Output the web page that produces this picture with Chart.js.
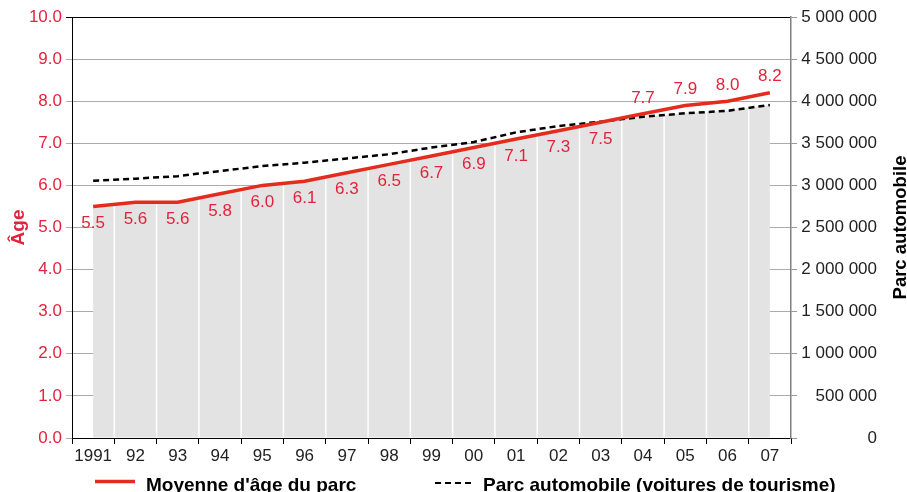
<!DOCTYPE html>
<html>
<head>
<meta charset="utf-8">
<script src="https://cdn.jsdelivr.net/npm/chart.js@4"></script>
<style>
  html, body { margin: 0; padding: 0; background: #fff; }
  #wrap { width: 907px; height: 492px; }
</style>
</head>
<body>
<div id="wrap"><canvas id="c" width="907" height="492"></canvas></div>
<script>
// Years on the horizontal axis
const years = ['1991','92','93','94','95','96','97','98','99','00','01','02','03','04','05','06','07'];
// Average age of the fleet (years)
const ageMoyen = [5.5, 5.6, 5.6, 5.8, 6.0, 6.1, 6.3, 6.5, 6.7, 6.9, 7.1, 7.3, 7.5, 7.7, 7.9, 8.0, 8.2];
// Passenger car fleet (vehicles)
const parcAuto = [3056000, 3080000, 3110000, 3170000, 3230000, 3270000, 3320000, 3370000, 3450000, 3515000, 3630000, 3705000, 3757000, 3815000, 3856000, 3886000, 3955000];
// Legend texts
const legendAge = "Moyenne d'âge du parc";
const legendParc = 'Parc automobile (voitures de tourisme)';
const titleLeft = 'Âge';
const titleRight = 'Parc automobile';

const FONT = '"Liberation Sans", Arial, sans-serif';
const CRIMSON = '#e3233d';
const LINE_RED = '#e42c1e';
const FILL_GREY = '#e3e3e3';
const GRID_GREY = '#ababab';

function thousands(v) {
  return String(v).replace(/\B(?=(\d{3})+(?!\d))/g, ' ');
}

// Grey area under the lower of the two curves, with white separators per year
const underlay = {
  id: 'underlay',
  beforeDatasetsDraw(chart) {
    const a = chart.getDatasetMeta(0).data;
    const b = chart.getDatasetMeta(1).data;
    const bottom = chart.scales.y.getPixelForValue(0);
    const ctx = chart.ctx;
    const n = a.length;
    ctx.save();
    ctx.beginPath();
    ctx.moveTo(a[0].x, bottom);
    for (let i = 0; i < n; i++) {
      ctx.lineTo(a[i].x, Math.max(a[i].y, b[i].y));
      if (i < n - 1) {
        const d0 = a[i].y - b[i].y;
        const d1 = a[i + 1].y - b[i + 1].y;
        if (d0 * d1 < 0) {
          const t = d0 / (d0 - d1);
          ctx.lineTo(a[i].x + t * (a[i + 1].x - a[i].x), a[i].y + t * (a[i + 1].y - a[i].y));
        }
      }
    }
    ctx.lineTo(a[n - 1].x, bottom - 0.5);
    ctx.lineTo(a[0].x, bottom - 0.5);
    ctx.closePath();
    ctx.fillStyle = FILL_GREY;
    ctx.fill();
    ctx.clip();
    ctx.strokeStyle = '#ffffff';
    ctx.lineWidth = 1.5;
    for (let i = 0; i < n - 1; i++) {
      const x = (a[i].x + a[i + 1].x) / 2;
      ctx.beginPath();
      ctx.moveTo(x, chart.chartArea.top);
      ctx.lineTo(x, bottom);
      ctx.stroke();
    }
    ctx.restore();
  },
  afterDatasetsDraw(chart) {
    // value labels of the average age
    const a = chart.getDatasetMeta(0).data;
    const b = chart.getDatasetMeta(1).data;
    const ctx = chart.ctx;
    ctx.save();
    ctx.font = '17px ' + FONT;
    ctx.fillStyle = CRIMSON;
    ctx.textAlign = 'center';
    ctx.textBaseline = 'middle';
    a.forEach((p, i) => {
      const below = p.y >= b[i].y;
      ctx.fillText(ageMoyen[i].toFixed(1), p.x, below ? p.y + 17 : p.y - 16);
    });
    ctx.restore();
  },
  afterDraw(chart) {
    const ctx = chart.ctx;
    ctx.save();
    // right axis title, reading upwards
    ctx.font = 'bold 18.5px ' + FONT;
    ctx.fillStyle = '#000';
    ctx.translate(906, (chart.chartArea.top + chart.chartArea.bottom) / 2);
    ctx.rotate(-Math.PI / 2);
    ctx.textAlign = 'center';
    ctx.textBaseline = 'alphabetic';
    ctx.fillText(titleRight, 0, 0);
    ctx.restore();

    // legend
    ctx.save();
    ctx.font = 'bold 19px ' + FONT;
    ctx.fillStyle = '#000';
    ctx.textAlign = 'left';
    ctx.textBaseline = 'alphabetic';
    ctx.strokeStyle = LINE_RED;
    ctx.lineWidth = 3.5;
    ctx.beginPath();
    ctx.moveTo(95, 481.5);
    ctx.lineTo(135, 481.5);
    ctx.stroke();
    ctx.fillText(legendAge, 146, 491);
    ctx.strokeStyle = '#000';
    ctx.lineWidth = 2.2;
    ctx.setLineDash([6, 4]);
    ctx.beginPath();
    ctx.moveTo(435, 483);
    ctx.lineTo(475, 483);
    ctx.stroke();
    ctx.setLineDash([]);
    ctx.fillText(legendParc, 483, 491);
    ctx.restore();
  }
};

new Chart(document.getElementById('c'), {
  type: 'line',
  data: {
    labels: years,
    datasets: [
      {
        label: legendAge,
        data: ageMoyen,
        yAxisID: 'y',
        borderColor: LINE_RED,
        borderWidth: 3.5,
        pointRadius: 0,
        tension: 0,
        fill: false
      },
      {
        label: legendParc,
        data: parcAuto,
        yAxisID: 'y1',
        borderColor: '#000',
        borderWidth: 2.5,
        borderDash: [6, 4],
        pointRadius: 0,
        tension: 0,
        fill: false
      }
    ]
  },
  options: {
    responsive: false,
    animation: false,
    layout: { padding: { top: 17, bottom: 24, left: 0, right: 30 } },
    plugins: { legend: { display: false }, tooltip: { enabled: false } },
    scales: {
      x: {
        type: 'category',
        offset: true,
        grid: { offset: true, drawOnChartArea: false, tickLength: 6, color: '#000' },
        border: { color: '#000', width: 1 },
        ticks: { color: '#222', font: { family: FONT, size: 17 }, padding: 2, maxRotation: 0, autoSkip: false },
        afterFit: s => { s.height = 30; }
      },
      y: {
        position: 'left',
        min: 0,
        max: 10,
        ticks: {
          stepSize: 1,
          color: CRIMSON,
          font: { family: FONT, size: 17 },
          padding: 4,
          callback: v => Number(v).toFixed(1)
        },
        grid: {
          color: c => (c.tick && c.tick.value === 10 ? '#000' : GRID_GREY),
          tickLength: 6
        },
        border: { color: '#000', width: 1 },
        title: {
          display: true,
          text: titleLeft,
          color: CRIMSON,
          font: { family: FONT, size: 19, weight: 'bold' },
          padding: { top: 7, bottom: 0 }
        },
        afterFit: s => { s.width = 72; }
      },
      y1: {
        position: 'right',
        min: 0,
        max: 5000000,
        ticks: {
          stepSize: 500000,
          color: '#222',
          font: { family: FONT, size: 17 },
          padding: 4,
          crossAlign: 'far',
          callback: v => thousands(v)
        },
        grid: { drawOnChartArea: false, tickLength: 6, color: '#999' },
        border: { color: '#808080', width: 1.5 },
        afterFit: s => { s.width = 86; }
      }
    }
  },
  plugins: [underlay]
});
</script>
</body>
</html>
